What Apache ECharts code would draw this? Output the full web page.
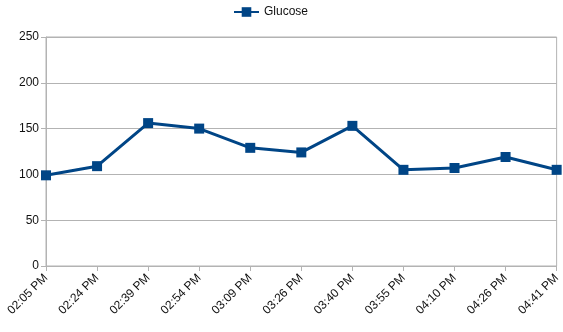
<!DOCTYPE html>
<html>
<head>
<meta charset="utf-8">
<script src="https://cdn.jsdelivr.net/npm/echarts@6/dist/echarts.min.js"></script>
<style>
  html, body { margin: 0; padding: 0; background: #fff; }
  #chart { width: 563px; height: 332px; }
</style>
</head>
<body>
<div id="chart"></div>
<script>
// Reading times
const times = ['02:05 PM', '02:24 PM', '02:39 PM', '02:54 PM', '03:09 PM', '03:26 PM',
               '03:40 PM', '03:55 PM', '04:10 PM', '04:26 PM', '04:41 PM'];
// Glucose readings
const glucose = [99, 109, 156, 150, 129, 124, 153, 105, 107, 119, 105];

const gridColor = '#b3b3b3';
const textColor = '#111';
const lineColor = '#004586';

const chart = echarts.init(document.getElementById('chart'), null, { renderer: 'canvas' });
chart.setOption({
  animation: false,
  textStyle: { fontFamily: 'Liberation Sans, Arial, sans-serif' },
  legend: {
    top: 1,
    left: 228,
    itemWidth: 25,
    itemHeight: 12,
    itemGap: 4,
    textStyle: { color: textColor, fontSize: 12, fontFamily: 'Liberation Sans' },
    data: ['Glucose']
  },
  grid: {
    left: 46, right: 6, top: 37, bottom: 66,
    show: true,
    borderColor: gridColor,
    borderWidth: 1
  },
  xAxis: {
    type: 'category',
    data: times,
    boundaryGap: false,
    axisLine: { lineStyle: { color: gridColor, width: 1 } },
    axisTick: { show: true, alignWithLabel: true, length: 5, lineStyle: { color: gridColor } },
    axisLabel: {
      rotate: 45,
      interval: 0,
      color: textColor,
      fontSize: 12,
      fontFamily: 'Liberation Sans',
      margin: 10
    },
    splitLine: { show: false }
  },
  yAxis: {
    type: 'value',
    min: 0,
    max: 250,
    interval: 50,
    axisLine: { show: true, lineStyle: { color: gridColor, width: 1 } },
    axisTick: { show: true, length: 5, lineStyle: { color: gridColor } },
    axisLabel: { color: textColor, fontSize: 12, fontFamily: 'Liberation Sans', margin: 7 },
    splitLine: { show: true, lineStyle: { color: gridColor, width: 1 } }
  },
  series: [{
    name: 'Glucose',
    type: 'line',
    data: glucose,
    symbol: 'rect',
    symbolSize: 10,
    showAllSymbol: true,
    lineStyle: { color: lineColor, width: 3 },
    itemStyle: { color: lineColor }
  }]
});
</script>
</body>
</html>
